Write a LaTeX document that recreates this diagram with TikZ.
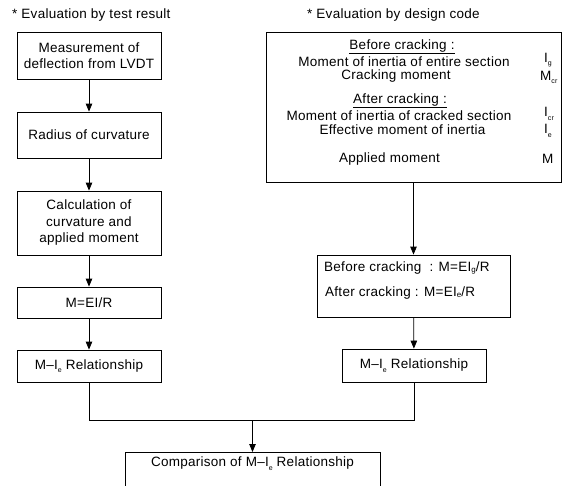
\documentclass[tikz,border=0pt]{standalone}
\usepackage{fontspec}
\setmainfont{Liberation Sans}[LetterSpace=2]
\usetikzlibrary{arrows.meta}
\newcommand{\sbs}[1]{\raisebox{-0.5ex}{\scriptsize #1}}
\newcommand{\sbi}[1]{\raisebox{-0.15ex}{\footnotesize #1}}
\begin{document}
\begin{tikzpicture}[x=1pt,y=-1pt,
  every node/.style={font=\fontsize{13.5}{16}\selectfont, inner sep=0pt},
  box/.style={draw, line width=0.8pt, minimum width=144pt, align=center},
  conn/.style={line width=0.8pt},
  arr/.style={conn, -{Triangle[length=8pt,width=6.5pt]}},
  title/.style={anchor=west}]
\clip (0,0) rectangle (564,485);
\useasboundingbox (0,0) rectangle (564,485);
% titles
\node[title] (t1) at (12,15) {* Evaluation by test result};
\node[title] (t2) at (307,15) {* Evaluation by design code};
% left column
\node[box, minimum height=47pt] (b1) at (89,55.5) {Measurement of\\deflection from LVDT};
\node[box, minimum height=46pt] (b2) at (89,135) {Radius of curvature};
\node[box, minimum height=64pt, font=\fontsize{13.5}{16.5}\selectfont] (b3) at (89,223) {Calculation of\\curvature and\\applied moment};
\node[box, minimum height=31pt] (b4) at (89,302.5) {M=EI/R};
\node[box, minimum height=32pt] (b5) at (89,366) {M–I\sbs{e}  Relationship};
% right column
\node[draw, line width=0.8pt, minimum width=295pt, minimum height=150pt] (code) at (413.5,107) {};
\node (c1) at (402,47) {\underline{Before cracking :}};
\node (c2) at (404,62) {Moment of inertia of entire section};
\node (c3) at (396,76) {Cracking moment};
\node (c4) at (400,101) {\underline{After cracking :}};
\node (c5) at (399,116) {Moment of inertia of cracked section};
\node (c6) at (402.5,130) {Effective moment of inertia};
\node (c7) at (389.5,159) {Applied moment};
\node[anchor=west] (s1) at (544,60) {I\sbs{g}};
\node[anchor=west] (s2) at (540,77.5) {M\sbs{cr}};
\node[anchor=west] (s3) at (544,114) {I\sbs{cr}};
\node[anchor=west] (s4) at (544,131) {I\sbs{e}};
\node[anchor=west] (s5) at (542,159) {M};
\node[draw, line width=0.8pt, minimum width=193pt, minimum height=62pt] (eq) at (413.5,286) {};
\node[anchor=west] (e1) at (324,268) {Before cracking \ : M=EI\sbi{g}/R};
\node[anchor=west] (e2) at (325,293) {After cracking : M=EI\sbi{e}/R};
\node[draw, line width=0.8pt, minimum width=144pt, minimum height=33pt] (rel) at (414,365.5) {M–I\sbs{e}  Relationship};
% comparison box (cut off at bottom)
\node[draw, line width=0.8pt, anchor=north, minimum width=255pt, inner ysep=5pt, text height=9.5pt, text depth=30pt] (cmp) at (252.5,452) {Comparison of M–I\sbs{e}  Relationship};
% connectors
\draw[arr] (b1) -- (b2);
\draw[arr] (b2) -- (b3);
\draw[arr] (b3) -- (b4);
\draw[arr] (b4) -- (b5);
\draw[arr] (code.south -| eq.north) -- (eq);
\draw[arr] (eq) -- (rel);
\coordinate (j) at (cmp.north |- 0,420);
\draw[conn] (b5.south) |- (j);
\draw[conn] (rel.south) |- (j);
\draw[arr] (j) -- (cmp.north);
\end{tikzpicture}
\end{document}
